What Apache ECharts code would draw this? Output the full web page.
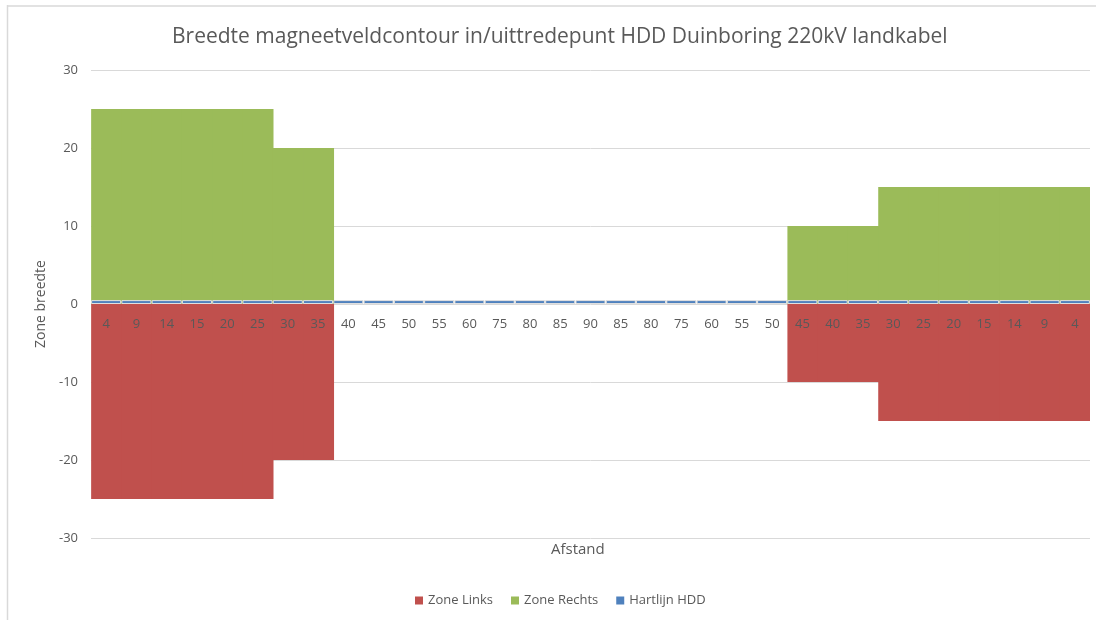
<!DOCTYPE html>
<html>
<head>
<meta charset="utf-8">
<script src="https://cdn.jsdelivr.net/npm/echarts@6/dist/echarts.min.js"></script>
<style>
  html, body { margin: 0; padding: 0; background: #fff; }
  #chart { width: 1096px; height: 620px; }
</style>
</head>
<body>
<div id="chart"></div>
<script>
// afstand labels along the drilling (in -> out)
const afstand = ['4', '9', '14', '15', '20', '25', '30', '35', '40', '45', '50', '55', '60', '75', '80', '85', '90',
  '85', '80', '75', '60', '55', '50', '45', '40', '35', '30', '25', '20', '15', '14', '9', '4']
const zoneLinks = [-25, -25, -25, -25, -25, -25, -20, -20, 0, 0, 0, 0, 0, 0, 0, 0, 0,
  0, 0, 0, 0, 0, 0, -10, -10, -10, -15, -15, -15, -15, -15, -15, -15]
const zoneRechts = [25, 25, 25, 25, 25, 25, 20, 20, 0, 0, 0, 0, 0, 0, 0, 0, 0,
  0, 0, 0, 0, 0, 0, 10, 10, 10, 15, 15, 15, 15, 15, 15, 15]
const hartlijn = afstand.map(() => 0.5)

const FONT = 'Open Sans'
const chart = echarts.init(document.getElementById('chart'))

chart.setOption({
  animation: false,
  textStyle: { fontFamily: FONT, color: '#595959' },
  title: {
    text: 'Breedte magneetveldcontour in/uittredepunt HDD Duinboring 220kV landkabel',
    left: 167,
    top: 22,
    textStyle: { fontFamily: FONT, fontSize: 21, fontWeight: 'normal', color: '#595959' }
  },
  grid: { left: 91, right: 6, top: 70, bottom: 82, containLabel: false },
  legend: {
    bottom: 8,
    left: 410,
    itemWidth: 8,
    itemHeight: 8,
    itemGap: 18,
    icon: 'rect',
    itemStyle: { borderWidth: 0 },
    textStyle: { fontFamily: FONT, fontSize: 13, color: '#595959' },
    data: ['Zone Links', 'Zone Rechts', 'Hartlijn HDD']
  },
  xAxis: {
    type: 'category',
    data: afstand,
    axisLine: { show: false },
    axisTick: { show: false },
    axisLabel: { show: false }
  },
  yAxis: {
    type: 'value',
    min: -30,
    max: 30,
    interval: 10,
    name: 'Zone breedte',
    nameLocation: 'middle',
    nameGap: 43,
    nameTextStyle: { fontFamily: FONT, fontSize: 14, color: '#595959' },
    axisLine: { show: false },
    axisTick: { show: false },
    axisLabel: { fontFamily: FONT, fontSize: 13, color: '#595959', margin: 13 },
    splitLine: { lineStyle: { color: '#d9d9d9' } }
  },
  graphic: [
    { type: 'line', shape: { x1: 7, y1: 6, x2: 1096, y2: 6 }, style: { stroke: '#d9d9d9', lineWidth: 1.5 } },
    { type: 'line', shape: { x1: 7.5, y1: 5, x2: 7.5, y2: 620 }, style: { stroke: '#d9d9d9', lineWidth: 1.5 } },
    {
      type: 'text', left: 551, top: 542,
      style: { text: 'Afstand', font: '15px "Open Sans"', fill: '#595959' }
    }
  ],
  series: [
    {
      name: 'Zone Links',
      type: 'bar',
      stack: 'zone',
      barWidth: 31,
      itemStyle: { color: '#c0504d' },
      data: zoneLinks
    },
    {
      name: 'Zone Rechts',
      type: 'bar',
      stack: 'zone',
      barWidth: 31,
      itemStyle: { color: '#9bbb59' },
      data: zoneRechts
    },
    {
      name: 'Hartlijn HDD',
      type: 'bar',
      barGap: '-100%',
      barWidth: 30,
      itemStyle: { color: '#4f81bd', borderColor: '#e0e0e0', borderWidth: 1 },
      label: {
        show: true,
        position: 'bottom',
        distance: 14,
        formatter: '{b}',
        fontFamily: FONT,
        fontSize: 13,
        color: '#595959'
      },
      data: hartlijn
    }
  ]
})
</script>
</body>
</html>
